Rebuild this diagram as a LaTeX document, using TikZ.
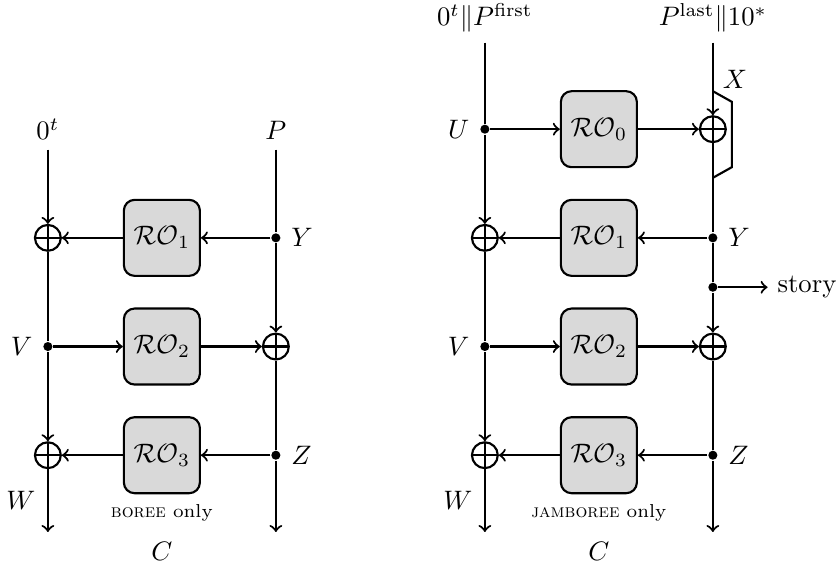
\documentclass[tikz,border=0pt]{standalone}
\usepackage{amsmath, amssymb}
\usepackage{xcolor}
\usepackage{tikz}
\usetikzlibrary{positioning}

\begin{document}
\begin{tikzpicture}[
    thick,
    oracle/.style={rectangle, draw, fill=gray!30, rounded corners=4pt, minimum size=1cm},
    xor/.style={circle, draw, minimum size=0.34cm, inner sep=0pt,
        path picture={\draw (path picture bounding box.north) -- (path picture bounding box.south)
            (path picture bounding box.west) -- (path picture bounding box.east);}},
    junction/.style={circle, fill, minimum size=3.4pt, inner sep=0pt},
    note/.style={font=\scriptsize}
]
\useasboundingbox (-0.63,3.13) rectangle (10.41,-4.33);

\node (i0) [anchor=south] at (0,1.16) {$0^t$};
\node (i1) [anchor=south] at (3,1.16) {$P$};
\node (b1) [oracle] at (1.5,0) {$\mathcal{RO}_1$};
\node (b2) [oracle] at (1.5,-1.43) {$\mathcal{RO}_2$};
\node (b3) [oracle] at (1.5,-2.86) {$\mathcal{RO}_3$};
\node (x1) [xor] at (0,0) {};
\node (y) [junction, label=right:$Y$] at (3,0) {};
\node (v) [junction, label=left:$V$] at (0,-1.43) {};
\node (x2) [xor] at (3,-1.43) {};
\node (x3) [xor] at (0,-2.86) {};
\node (z) [junction, label=right:$Z$] at (3,-2.86) {};
\coordinate (o0) at (0,-3.87);
\coordinate (o1) at (3,-3.87);
\node [left=1pt] at (0,-3.45) {$W$};
\node [below=0pt of b3, note] {\textsc{boree} only};
\node (c) at (1.5,-4.13) {$C$};

\draw[->] (i0) -- (x1);
\draw (x1) -- (v);
\draw[->] (v) -- (x3);
\draw[->] (x3) -- (o0);
\draw (i1) -- (y);
\draw[->] (y) -- (x2);
\draw (x2) -- (z);
\draw[->] (z) -- (o1);
\draw[->] (y) -- (b1);
\draw[->] (b1) -- (x1);
\draw[->] (v) -- (b2);
\draw[->] (b2) -- (x2);
\draw[->] (z) -- (b3);
\draw[->] (b3) -- (x3);

\node (j0) [anchor=south] at (5.75,2.57) {$0^t \| P^{\mathrm{first}}$};
\node (j1) [anchor=south] at (8.75,2.57) {$P^{\mathrm{last}} \| 10^*$};
\node (a0) [oracle] at (7.25,1.43) {$\mathcal{RO}_0$};
\node (a1) [oracle] at (7.25,0) {$\mathcal{RO}_1$};
\node (a2) [oracle] at (7.25,-1.43) {$\mathcal{RO}_2$};
\node (a3) [oracle] at (7.25,-2.86) {$\mathcal{RO}_3$};
\node (u) [junction, label=left:$U$] at (5.75,1.43) {};
\node (x0) [xor] at (8.75,1.43) {};
\node (xa1) [xor] at (5.75,0) {};
\node (yb) [junction, label=right:$Y$] at (8.75,0) {};
\node (s) [junction] at (8.75,-0.65) {};
\node (story) [anchor=west] at (9.47,-0.65) {story};
\node (va) [junction, label=left:$V$] at (5.75,-1.43) {};
\node (xb2) [xor] at (8.75,-1.43) {};
\node (xa3) [xor] at (5.75,-2.86) {};
\node (zb) [junction, label=right:$Z$] at (8.75,-2.86) {};
\coordinate (p0) at (5.75,-3.87);
\coordinate (p1) at (8.75,-3.87);
\node [left=1pt] at (5.75,-3.45) {$W$};
\node [below=0pt of a3, note] {\textsc{jamboree} only};
\node (c2) at (7.25,-4.13) {$C$};
\node at (9.04,2.08) {$X$};

\draw (8.75,1.93) -- (9.0,1.79) -- (9.0,0.93) -- (8.75,0.79);

\draw (j0) -- (u);
\draw[->] (u) -- (xa1);
\draw (xa1) -- (va);
\draw[->] (va) -- (xa3);
\draw[->] (xa3) -- (p0);
\draw[->] (j1) -- (x0);
\draw (x0) -- (yb);
\draw (yb) -- (s);
\draw[->] (s) -- (xb2);
\draw (xb2) -- (zb);
\draw[->] (zb) -- (p1);
\draw[->] (u) -- (a0);
\draw[->] (a0) -- (x0);
\draw[->] (yb) -- (a1);
\draw[->] (a1) -- (xa1);
\draw[->] (va) -- (a2);
\draw[->] (a2) -- (xb2);
\draw[->] (zb) -- (a3);
\draw[->] (a3) -- (xa3);
\draw[->] (s) -- (story);
\end{tikzpicture}
\end{document}
